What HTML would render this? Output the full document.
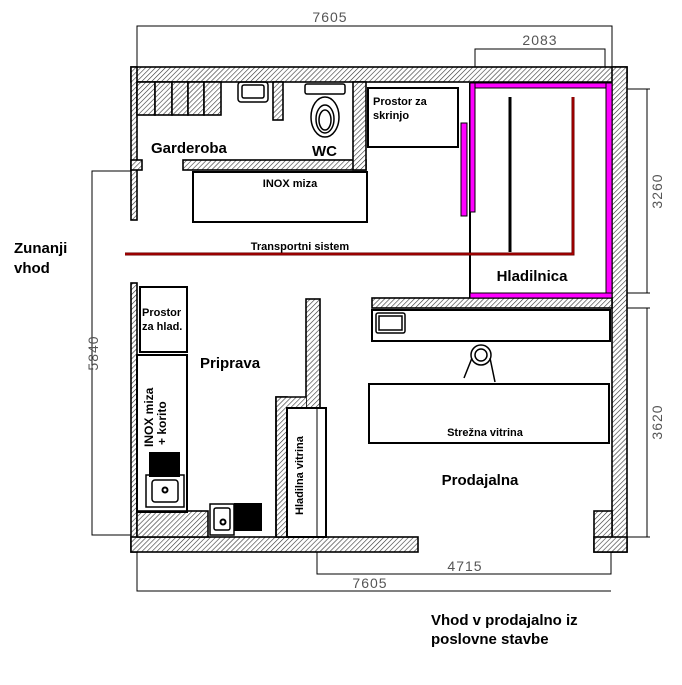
<!DOCTYPE html>
<html><head><meta charset="utf-8"><style>
html,body{margin:0;padding:0;background:#fff}
svg{display:block}
text{font-family:"Liberation Sans",sans-serif}
.b{font-weight:bold;fill:#000}
.d{fill:#555;font-size:14px;letter-spacing:1px}
</style></head><body>
<svg width="682" height="685" viewBox="0 0 682 685" xmlns="http://www.w3.org/2000/svg">
<defs>
<pattern id="h" patternUnits="userSpaceOnUse" width="3.5" height="3.5" patternTransform="rotate(45)">
<rect width="4" height="4" fill="#fff"/><line x1="0" y1="0" x2="0" y2="4" stroke="#333" stroke-width="1.2"/>
</pattern>
</defs>
<g stroke="#000" stroke-width="1" fill="none">
<polyline points="137,67 137,26 612,26 612,82"/>
<polyline points="475,88 475,49 605,49 605,88"/>
<polyline points="612,89 650,89"/><polyline points="612,293 650,293"/><line x1="647" y1="89" x2="647" y2="293"/>
<polyline points="612,308 650,308"/><polyline points="612,537 650,537"/><line x1="647" y1="308" x2="647" y2="537"/>
<polyline points="131,171 92,171 92,535 131,535"/>
<polyline points="317,408 317,574 611,574 611,540"/>
<polyline points="137,552 137,591 611,591"/>
</g>
<text class="d" x="330" y="22" text-anchor="middle">7605</text>
<text class="d" x="540" y="45" text-anchor="middle">2083</text>
<text class="d" transform="translate(662,191) rotate(-90)" text-anchor="middle">3260</text>
<text class="d" transform="translate(662,422) rotate(-90)" text-anchor="middle">3620</text>
<text class="d" transform="translate(98,353) rotate(-90)" text-anchor="middle">5840</text>
<text class="d" x="465" y="571" text-anchor="middle">4715</text>
<text class="d" x="370" y="588" text-anchor="middle">7605</text>

<g fill="url(#h)" stroke="#000" stroke-width="1.6">
<rect x="131" y="67" width="496" height="15"/>
<rect x="612" y="67" width="15" height="485"/>
<rect x="131" y="67" width="6" height="153"/>
<rect x="131" y="160" width="11" height="10"/>
<rect x="131" y="283" width="6" height="269"/>
<rect x="131" y="537" width="287" height="15"/>
<rect x="594" y="511" width="18" height="41"/>
<rect x="594" y="537" width="33" height="15"/>
<rect x="183" y="160" width="183" height="10"/>
<rect x="353" y="82" width="13" height="88"/>
<rect x="273" y="82" width="10" height="38"/>
<rect x="137" y="82" width="18" height="33"/><rect x="155" y="82" width="17" height="33"/><rect x="172" y="82" width="16" height="33"/><rect x="188" y="82" width="16" height="33"/><rect x="204" y="82" width="17" height="33"/>
<rect x="372" y="298" width="240" height="10"/>
<rect x="306" y="299" width="14" height="109"/>
<rect x="276" y="397" width="11" height="140"/>
<rect x="276" y="397" width="30" height="11" stroke="none"/>
<rect x="137" y="511" width="71" height="26"/>
</g>
<polyline points="276,537 276,397 306,397" fill="none" stroke="#000" stroke-width="1.6"/>

<g fill="none" stroke="#000" stroke-width="2">
<rect x="368" y="88" width="90" height="59"/>
<rect x="193" y="172" width="174" height="50"/>
<rect x="140" y="287" width="47" height="65"/>
<rect x="137" y="355" width="50" height="157"/>
<rect x="372" y="310" width="238" height="31"/>
<rect x="369" y="384" width="240" height="59"/>
<rect x="287" y="408" width="39" height="129"/>
<line x1="470" y1="83" x2="470" y2="298"/>
</g>
<g fill="#f0f" stroke="#000" stroke-width="1">
<rect x="470" y="83" width="142" height="5"/>
<rect x="606" y="83" width="6" height="215"/>
<rect x="470" y="293" width="142" height="5"/>
<rect x="470" y="83" width="5" height="129"/>
<rect x="461" y="123" width="6" height="93"/>
</g>
<line x1="510" y1="97" x2="510" y2="252" stroke="#000" stroke-width="3"/>
<polyline points="125,254 573,254 573,97" fill="none" stroke="#600" stroke-width="3"/>
<polyline points="125,254 573,254 573,97" fill="none" stroke="#c00" stroke-width="1"/>
<g fill="none" stroke="#000" stroke-width="1.5">
<rect x="238" y="82" width="30" height="20" rx="3"/><rect x="242" y="85" width="22" height="13" rx="2"/>
<rect x="305" y="84" width="40" height="10" rx="2"/>
<ellipse cx="325" cy="117" rx="14" ry="20"/><ellipse cx="325" cy="119" rx="9" ry="14"/><ellipse cx="325" cy="120" rx="6" ry="10"/>
<rect x="376" y="313" width="29" height="20" rx="2"/><rect x="379" y="316" width="23" height="14"/>
<rect x="146" y="475" width="38" height="32"/><rect x="152" y="480" width="26" height="22" rx="3"/>
<rect x="210" y="504" width="24" height="31"/><rect x="214" y="508" width="16" height="22" rx="2"/>
<circle cx="481" cy="355" r="10"/><circle cx="481" cy="355" r="6"/>
<path d="M472 358 L464 378 M490 358 L495 382"/>
</g>
<rect x="149" y="452" width="31" height="25" fill="#000"/>
<rect x="234" y="503" width="28" height="28" fill="#000"/>
<circle cx="165" cy="490" r="2.5" fill="none" stroke="#000" stroke-width="2"/>
<circle cx="223" cy="522" r="2.5" fill="none" stroke="#000" stroke-width="2"/>

<text class="b" x="151" y="153" font-size="15">Garderoba</text>
<text class="b" x="312" y="156" font-size="15">WC</text>
<text class="b" x="373" y="105" font-size="11">Prostor za</text>
<text class="b" x="373" y="119" font-size="11">skrinjo</text>
<text x="290" y="187" font-size="11" text-anchor="middle" font-weight="bold">INOX miza</text>
<text x="300" y="250" font-size="11" text-anchor="middle" font-weight="bold">Transportni sistem</text>
<text class="b" x="532" y="281" font-size="15" text-anchor="middle">Hladilnica</text>
<text class="b" x="142" y="316" font-size="11">Prostor</text>
<text class="b" x="142" y="330" font-size="11">za hlad.</text>
<text class="b" x="200" y="368" font-size="15">Priprava</text>
<text class="b" transform="translate(153,447) rotate(-90)" font-size="12">INOX miza</text>
<text class="b" transform="translate(166,445) rotate(-90)" font-size="12">+ korito</text>
<text class="b" transform="translate(303,515) rotate(-90)" font-size="11">Hladilna vitrina</text>
<text x="485" y="436" font-size="11" text-anchor="middle" font-weight="bold">Strežna vitrina</text>
<text class="b" x="480" y="485" font-size="15" text-anchor="middle">Prodajalna</text>
<text class="b" x="14" y="253" font-size="15">Zunanji</text>
<text class="b" x="14" y="273" font-size="15">vhod</text>
<text class="b" x="431" y="625" font-size="15">Vhod v prodajalno iz</text>
<text class="b" x="431" y="644" font-size="15">poslovne stavbe</text>
</svg>
</body></html>
